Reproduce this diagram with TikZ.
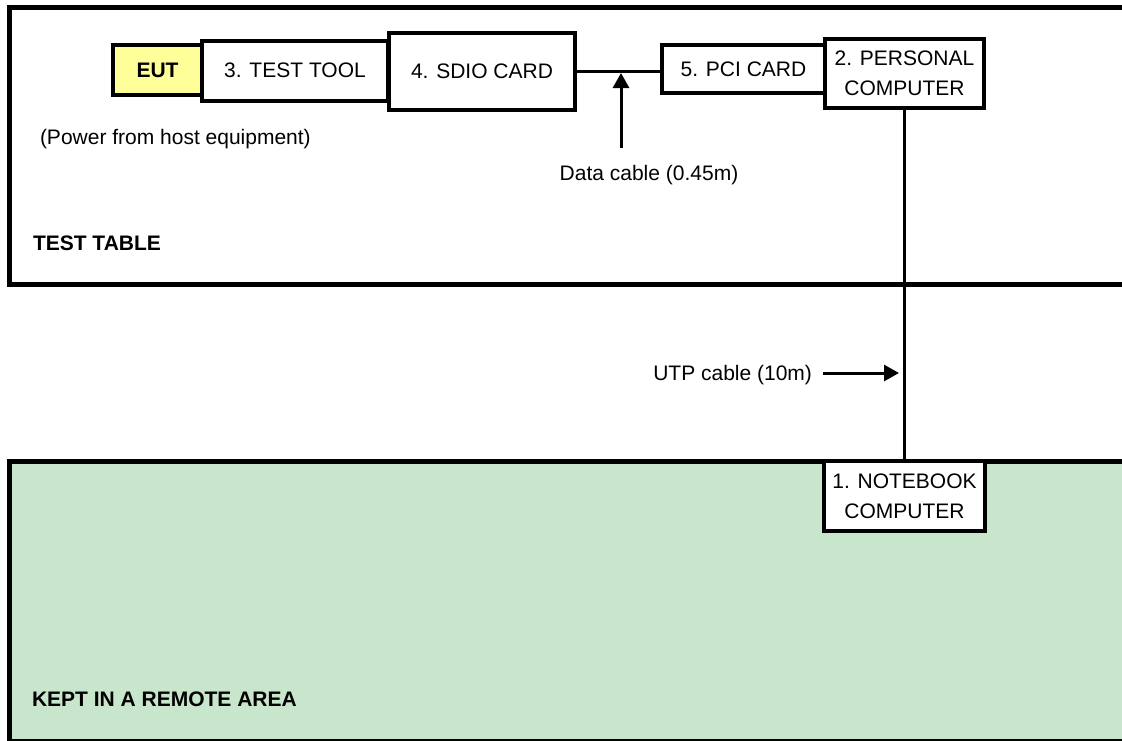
\documentclass[tikz,border=0pt]{standalone}
\usepackage{fontspec}
\setmainfont{Liberation Sans}
\usetikzlibrary{arrows.meta}
\definecolor{eutyellow}{RGB}{255,255,153}
\definecolor{remotegreen}{RGB}{200,230,204}
\begin{document}
\begin{tikzpicture}[x=1pt,y=-1pt,
  box/.style={draw=black, line width=4pt, fill=white, inner sep=0pt, outer sep=0pt, align=center, font=\fontsize{21}{30}\selectfont},
  lbl/.style={inner sep=0pt, outer sep=0pt, font=\fontsize{21}{30}\selectfont},
  area/.style={draw=black, line width=5pt},
  cable/.style={line width=3pt},
  pointer/.style={line width=3pt, -{Triangle[length=15pt,width=16pt]}}]
\useasboundingbox (0,0) rectangle (1122,740);
\begin{scope}
\clip (0,0) rectangle (1122,740);
\draw[area, fill=white] (9.5,7.5) rectangle (1140,284);
\draw[area, fill=remotegreen] (9.5,461) rectangle (1140,741);
\end{scope}

% equipment
\node[box, fill=eutyellow, font=\fontsize{21}{30}\selectfont\bfseries, minimum width=89, minimum height=50] (eut) at (157.5,70) {EUT};
\node[box, minimum width=186, minimum height=59.5] (tt) at (295,70.75) {3. TEST TOOL};
\node[box, minimum width=186, minimum height=77] (sdio) at (482,71.5) {4. SDIO CARD};
\node[box, minimum width=163, minimum height=48] (pci) at (743.5,69) {5. PCI CARD};
\node[box, minimum width=159, minimum height=69] (pc) at (904.5,73.5) {2. PERSONAL\\COMPUTER};
\node[box, minimum width=161, minimum height=70] (nb) at (904.5,496) {1. NOTEBOOK\\COMPUTER};

% cables
\draw[cable] (sdio.east) -- (sdio.east -| pci.west);
\draw[cable] (pc.south) -- (pc.south |- nb.north);

% labels
\node[lbl, anchor=base west] (power) at (40,144.5) {(Power from host equipment)};
\node[lbl, anchor=base] (data) at (649,180.5) {Data cable (0.45m)};
\node[lbl, anchor=base west, font=\fontsize{21}{30}\selectfont\bfseries] (table) at (33,250.5) {TEST TABLE};
\node[lbl, anchor=base east] (utp) at (812,380.5) {UTP cable (10m)};
\node[lbl, anchor=base west, font=\fontsize{21}{30}\selectfont\bfseries] (remote) at (32,706.5) {KEPT IN A REMOTE AREA};

% pointers
\coordinate (dctail) at (621,148);
\coordinate (dctip) at (621,73);
\draw[pointer] (dctail) -- (dctip);
\coordinate (utptail) at (823,373);
\coordinate (utptip) at (899,373);
\draw[pointer] (utptail) -- (utptip);
\end{tikzpicture}
\end{document}
